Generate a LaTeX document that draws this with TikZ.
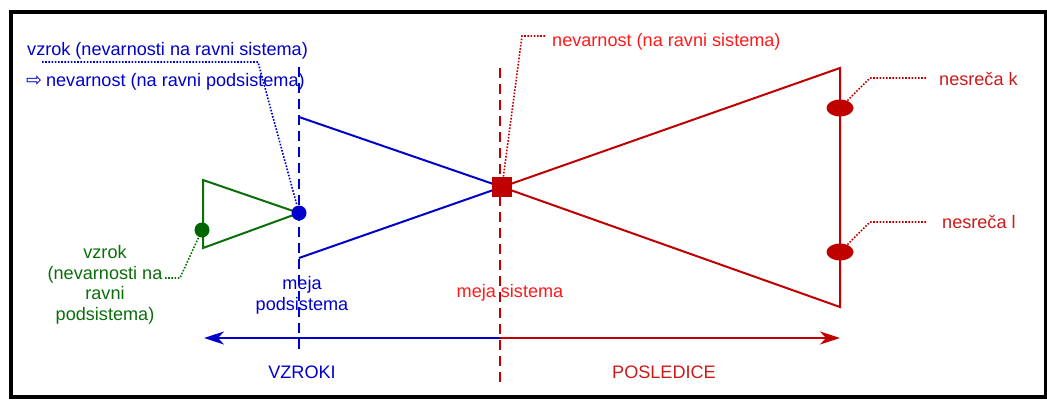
\documentclass[tikz,border=0pt]{standalone}
\usepackage{fontspec}
\setmainfont{Liberation Sans}
\newfontfamily\djv{DejaVu Sans}
\usetikzlibrary{arrows.meta,shapes.geometric}
\definecolor{cblue}{HTML}{0000CC}
\definecolor{cgreen}{HTML}{0A6E0A}
\definecolor{cgdot}{HTML}{006600}
\definecolor{cred}{HTML}{C00000}
\definecolor{cbright}{HTML}{FF1A1A}
\definecolor{ctext}{HTML}{CC1A1A}
\tikzset{
  mainline/.style={line width=2pt, line join=miter},
  bound/.style={line width=2pt, dash pattern=on 10pt off 6pt},
  leader/.style={line width=1.6pt, dash pattern=on 1.6pt off 1.6pt},
  dotc/.style={circle, minimum size=15pt, inner sep=0pt, draw=none},
  sq/.style={rectangle, minimum size=20pt, inner sep=0pt, fill=cred, draw=none},
  ell/.style={ellipse, minimum width=27pt, minimum height=17pt, inner sep=0pt, fill=cred, draw=none},
  lbl/.style={inner sep=0pt, font=\fontsize{18.1}{20.5}\selectfont},
  tip/.style={-{Stealth[length=20pt,width=13pt,inset=6pt]}},
}
\begin{document}
\begin{tikzpicture}[x=1pt,y=-1pt]
\useasboundingbox (0,0) rectangle (1047,399);
\draw[line width=4pt] (11,12) rectangle (1045.5,397);

% coordinates
\coordinate (X) at (502,187);
\coordinate (B) at (299,213);
\coordinate (btop) at (299,117);
\coordinate (bbot) at (299,258);
\coordinate (rtop) at (840,68);
\coordinate (rbot) at (840,307);
\coordinate (gtop) at (203,180);
\coordinate (gbot) at (203,248);

% boundaries
\draw[bound, cblue] (299,67) coordinate (bdtop) -- (299,355) coordinate (bdbot);
\draw[bound, cred] (500,68) coordinate (rdtop) -- (500,383) coordinate (rdbot);

% bow tie
\draw[mainline, cblue] (btop) -- (X) -- (bbot);
\draw[mainline, cred] (X) -- (rtop) -- (rbot) -- cycle;
\draw[mainline, cgreen] (B) -- (gtop) -- (gbot) -- cycle;

% markers
\node[dotc, fill=cblue] (bd) at (B) {};
\node[dotc, fill=cgdot] (gd) at (202,230) {};
\node[sq] (sqn) at (X) {};
\node[ell] (e1) at (840,108) {};
\node[ell] (e2) at (840,252) {};

% axis arrows
\coordinate (amid) at (500,338);
\coordinate (aleft) at (204,338);
\coordinate (aright) at (840,338);
\draw[mainline, cblue, tip] (amid) -- (aleft);
\draw[mainline, cred, tip] (amid) -- (aright);

% texts
\node[lbl, text=cblue, anchor=base west] (t1) at (27,55) {vzrok (nevarnosti na ravni sistema)};
\node[lbl, text=cblue, anchor=base west] (t2) at (26,86) {{\djv\fontsize{19}{20}\selectfont ⇨}\hspace{4pt}nevarnost (na ravni podsistema)};
\node[lbl, text=cgreen, align=center, anchor=base] (tg) at (105,320) {vzrok\\(nevarnosti na\\ravni\\podsistema)};
\node[lbl, text=cblue, align=center, anchor=base] (tm) at (302,310) {meja\\podsistema};
\node[lbl, text=cblue, anchor=base] (tv) at (302,378) {VZROKI};
\node[lbl, text=cbright, anchor=base] (tms) at (510,297) {meja sistema};
\node[lbl, text=ctext, anchor=base] (tp) at (664,378) {POSLEDICE};
\node[lbl, text=cbright, anchor=base west] (tn) at (552,46) {nevarnost (na ravni sistema)};
\node[lbl, text=ctext, anchor=base west] (tk) at (939,85) {nesreča k};
\node[lbl, text=ctext, anchor=base west] (tl) at (942,228) {nesreča l};

% leaders
\coordinate (l1a) at (42,62);
\coordinate (l1b) at (258,62);
\draw[leader, cblue] (l1a) -- (l1b) -- (bd);
\coordinate (lga) at (165,278);
\coordinate (lgb) at (180,278);
\draw[leader, cgreen] (lga) -- (lgb) -- (gd);
\coordinate (lra) at (545,36);
\coordinate (lrb) at (522,36);
\draw[leader, cred] (lra) -- (lrb) -- (sqn);
\coordinate (lka) at (926,78);
\coordinate (lkb) at (870,78);
\draw[leader, cred] (lka) -- (lkb) -- (e1);
\coordinate (lla) at (926,222);
\coordinate (llb) at (870,222);
\draw[leader, cred] (lla) -- (llb) -- (e2);
\end{tikzpicture}
\end{document}
